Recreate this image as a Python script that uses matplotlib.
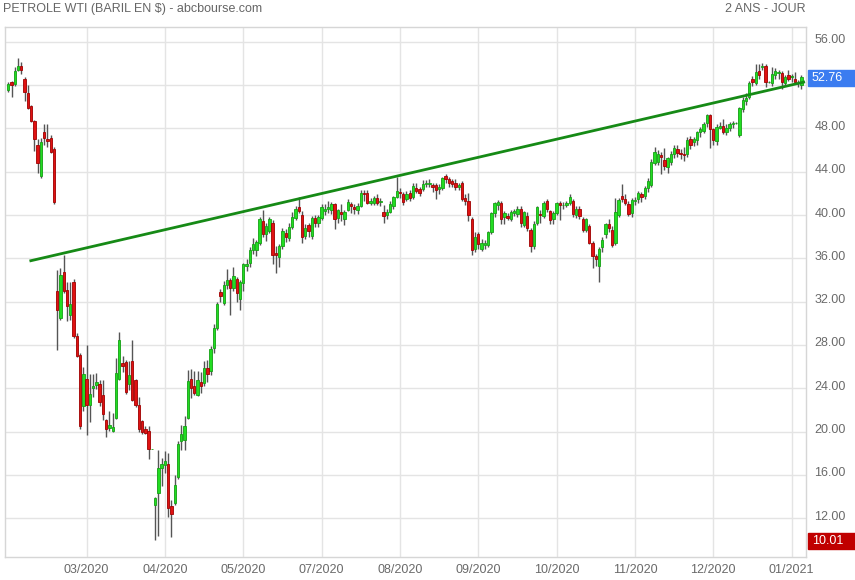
import numpy as np
import matplotlib as mpl
mpl.use("Agg")
import matplotlib.pyplot as plt
import matplotlib.transforms as mtransforms
from matplotlib.patches import Rectangle

mpl.rcParams["font.family"] = ["Liberation Sans", "DejaVu Sans"]

# daily candles, WTI (one entry per trading day)
opens = [
    51.5, 52.3, 52.1, 53.4, 53.8, 52.6, 51.3, 50.1, 48.7, 46.5,  # 0
    43.6, 47.7, 47.0, 47.1, 46.1, 33.0, 30.5, 34.7, 33.1, 30.8,  # 10
    33.8, 28.8, 27.1, 22.4, 24.9, 22.5, 24.0, 24.3, 24.4, 23.4,  # 20
    21.1, 20.3, 20.1, 21.3, 24.9, 26.3, 26.4, 24.4, 26.5, 24.8,  # 30
    22.5, 21.0, 20.2, 20.1, 18.4, 13.2, 14.3, 16.6, 16.9, 17.0,  # 40
    13.1, 13.4, 15.8, 19.1, 19.2, 21.3, 24.9, 24.2, 23.4, 24.6,  # 50
    24.5, 25.9, 25.6, 27.7, 29.6, 32.9, 31.9, 33.5, 34.0, 33.3,  # 60
    34.1, 32.2, 33.7, 35.3, 35.6, 36.8, 36.8, 37.4, 39.4, 38.2,  # 70
    38.5, 39.3, 36.5, 36.1, 37.1, 38.3, 37.9, 38.9, 39.7, 40.7,  # 80
    40.0, 38.1, 39.1, 38.1, 39.7, 39.3, 39.7, 40.4, 40.6, 40.5,  # 90
    41.0, 39.7, 40.3, 39.6, 40.5, 41.0, 40.7, 40.5, 40.8, 42.0,  # 100
    42.0, 41.1, 41.1, 41.6, 41.2, 40.3, 40.0, 40.3, 40.8, 41.7,  # 110
    42.1, 41.9, 41.5, 42.0, 41.7, 42.5, 42.4, 42.4, 42.9, 42.9,  # 120
    42.8, 42.8, 42.4, 42.5, 43.6, 43.3, 43.1, 43.0, 42.6, 43.0,  # 130
    41.6, 41.3, 39.6, 36.9, 38.2, 36.9, 37.2, 37.2, 38.4, 40.2,  # 140
    40.9, 41.1, 39.8, 39.9, 39.6, 40.2, 40.1, 40.6, 39.1, 39.9,  # 150
    38.6, 37.1, 39.3, 40.1, 39.9, 41.3, 40.4, 39.6, 40.2, 41.1,  # 160
    40.9, 40.9, 41.1, 41.3, 40.0, 40.6, 39.6, 38.6, 39.0, 37.4,  # 170
    36.2, 35.3, 37.0, 38.2, 39.2, 38.6, 37.4, 40.0, 41.8, 41.5,  # 180
    41.0, 40.2, 41.3, 41.5, 41.9, 41.8, 42.5, 42.8, 44.8, 44.9,  # 190
    45.5, 45.1, 44.4, 44.9, 45.6, 46.1, 45.7, 45.6, 45.6, 47.0,  # 200
    46.7, 46.9, 47.7, 47.8, 48.5, 49.2, 47.9, 46.8, 48.0, 48.2,  # 210
    47.7, 48.0, 48.4, 48.5, 47.4, 49.8, 50.5, 50.9, 52.6, 52.2,  # 220
    53.3, 53.7, 53.8, 52.3, 52.2, 52.9, 53.1, 53.1, 52.2, 52.9,  # 230
    52.7, 52.6, 52.2, 52.0,                                      # 240
]
highs = [
    52.3, 52.4, 53.7, 54.5, 54.1, 52.7, 52.0, 50.2, 48.8, 47.0,
    47.1, 48.4, 48.4, 47.4, 46.3, 34.9, 35.1, 36.3, 33.8, 33.8,
    34.1, 29.1, 27.3, 26.0, 28.0, 25.3, 25.3, 25.4, 24.8, 24.8,
    21.2, 21.9, 21.7, 26.8, 29.2, 27.0, 26.6, 26.5, 28.5, 24.9,
    23.2, 21.1, 20.5, 20.5, 18.4, 14.0, 18.3, 17.6, 18.2, 18.0,
    13.7, 16.0, 19.1, 20.6, 21.4, 25.7, 25.8, 25.6, 25.6, 25.5,
    26.5, 26.6, 27.9, 29.9, 32.0, 33.2, 33.9, 35.0, 34.2, 35.2,
    34.3, 34.0, 35.6, 35.9, 37.0, 37.9, 37.7, 39.8, 40.5, 39.3,
    39.8, 39.5, 37.1, 37.3, 38.8, 38.7, 39.3, 40.3, 40.8, 41.7,
    40.4, 39.2, 39.3, 39.9, 40.0, 40.0, 41.0, 41.0, 41.3, 41.2,
    41.1, 40.6, 41.0, 40.5, 41.5, 41.2, 41.0, 41.1, 42.3, 42.3,
    42.3, 41.6, 41.8, 41.9, 41.6, 40.9, 40.6, 41.3, 41.8, 43.5,
    42.5, 42.1, 42.2, 42.3, 43.0, 43.0, 42.6, 43.2, 43.2, 43.3,
    43.0, 43.0, 42.9, 43.5, 43.8, 43.5, 43.3, 43.3, 43.0, 43.1,
    41.9, 42.0, 39.8, 38.4, 38.4, 37.8, 37.7, 38.5, 40.3, 41.2,
    41.4, 41.3, 40.4, 40.2, 40.5, 40.6, 40.8, 40.8, 40.4, 40.3,
    38.8, 39.4, 40.8, 40.5, 41.3, 41.5, 40.5, 40.4, 41.2, 41.3,
    41.2, 41.3, 41.9, 41.5, 40.8, 40.8, 39.8, 39.7, 39.2, 37.6,
    36.4, 37.0, 38.0, 39.3, 39.6, 39.0, 41.6, 41.6, 42.9, 41.9,
    41.3, 41.6, 41.7, 42.2, 42.1, 42.7, 43.4, 45.2, 46.3, 46.0,
    45.8, 46.2, 45.4, 45.9, 46.5, 46.5, 46.1, 46.3, 47.2, 47.3,
    47.2, 47.8, 48.1, 48.6, 49.3, 49.3, 48.0, 48.4, 48.6, 48.9,
    48.4, 48.6, 48.7, 48.6, 50.0, 50.9, 51.3, 52.4, 52.8, 53.9,
    53.9, 54.0, 53.9, 52.4, 53.7, 53.6, 53.4, 53.3, 52.9, 53.4,
    53.0, 53.2, 52.5, 52.9,
]
lows = [
    51.4, 50.9, 51.9, 53.3, 53.0, 50.5, 49.8, 48.6, 45.9, 43.9,
    43.4, 46.5, 46.3, 45.7, 41.0, 27.5, 30.3, 32.8, 30.2, 30.3,
    28.6, 26.9, 20.2, 21.9, 19.7, 20.9, 23.2, 23.9, 22.4, 21.1,
    19.5, 20.1, 20.0, 21.2, 24.8, 25.5, 23.5, 23.8, 22.8, 22.3,
    20.0, 19.8, 19.8, 17.5, 18.4, 10.01, 10.4, 15.0, 16.2, 12.1,
    10.3, 13.2, 15.6, 18.3, 18.3, 21.2, 23.1, 23.4, 23.3, 23.6,
    24.2, 24.6, 25.2, 27.3, 29.4, 32.0, 31.7, 33.2, 30.8, 33.0,
    32.0, 31.2, 33.0, 34.8, 35.2, 36.4, 36.2, 37.2, 38.0, 37.6,
    38.3, 35.5, 34.6, 35.2, 36.9, 37.5, 37.6, 38.7, 39.5, 40.2,
    37.4, 37.8, 38.0, 37.8, 38.9, 38.9, 39.5, 40.0, 40.2, 40.1,
    38.7, 39.3, 39.4, 39.1, 40.4, 40.2, 40.1, 40.1, 40.7, 41.3,
    41.0, 40.9, 40.9, 40.9, 40.8, 39.3, 39.6, 40.2, 40.6, 41.6,
    41.6, 40.9, 41.3, 41.3, 41.5, 42.0, 41.8, 42.2, 42.6, 42.6,
    42.1, 41.5, 41.9, 42.3, 43.0, 42.6, 42.6, 42.3, 42.3, 41.3,
    40.9, 39.4, 36.3, 36.6, 36.9, 36.7, 36.9, 37.0, 38.2, 39.8,
    40.5, 39.2, 39.2, 39.5, 39.4, 39.9, 39.8, 38.9, 38.9, 38.5,
    36.6, 36.9, 39.1, 39.3, 39.7, 40.3, 39.2, 39.2, 40.0, 39.5,
    40.6, 40.7, 40.9, 39.8, 39.7, 39.6, 38.4, 38.4, 37.3, 35.1,
    35.3, 33.8, 36.6, 37.9, 38.4, 37.0, 37.2, 39.8, 41.2, 40.9,
    39.9, 39.8, 40.9, 41.1, 41.2, 41.5, 42.1, 42.6, 44.6, 44.6,
    43.8, 44.2, 43.9, 44.6, 45.3, 45.4, 45.2, 45.0, 45.4, 46.1,
    46.4, 46.5, 47.2, 47.6, 48.1, 46.2, 46.5, 46.5, 47.9, 47.5,
    47.4, 47.8, 48.0, 48.4, 47.2, 49.5, 50.2, 50.7, 51.9, 52.0,
    52.6, 53.4, 51.8, 52.2, 51.9, 52.6, 52.6, 51.6, 52.0, 52.4,
    52.3, 52.1, 51.8, 51.6,
]
closes = [
    52.1, 52.0, 53.3, 53.8, 53.4, 51.4, 49.9, 48.7, 47.0, 44.8,
    46.7, 47.1, 46.8, 45.8, 41.2, 31.2, 34.5, 33.0, 31.6, 31.8,
    28.8, 27.0, 20.5, 25.3, 22.5, 23.5, 24.2, 24.6, 22.7, 21.6,
    20.2, 20.6, 20.4, 25.4, 28.5, 26.1, 23.7, 25.2, 22.9, 22.5,
    20.2, 20.0, 19.9, 18.4, 18.4, 13.9, 16.6, 17.0, 17.3, 12.9,
    12.4, 15.1, 18.9, 19.8, 20.5, 24.7, 24.0, 23.6, 24.8, 24.2,
    25.9, 25.3, 27.6, 29.6, 31.8, 32.5, 33.5, 34.0, 33.3, 34.4,
    32.8, 33.8, 35.5, 35.5, 36.8, 37.3, 37.5, 39.6, 38.2, 39.0,
    39.6, 36.3, 36.3, 37.1, 38.5, 38.0, 38.9, 39.8, 40.6, 40.4,
    38.0, 38.8, 38.5, 39.7, 39.3, 39.8, 40.7, 40.6, 40.7, 41.0,
    39.6, 40.5, 40.1, 40.3, 41.2, 40.8, 40.6, 40.8, 42.0, 41.9,
    41.1, 41.3, 41.6, 41.1, 41.3, 39.9, 40.3, 41.0, 41.7, 42.2,
    42.0, 41.2, 41.9, 41.6, 42.7, 42.2, 42.0, 42.9, 43.0, 43.0,
    42.6, 42.3, 42.6, 43.4, 43.3, 43.0, 42.9, 42.6, 42.8, 41.5,
    41.3, 40.0, 36.8, 38.0, 37.3, 37.4, 37.4, 38.4, 40.2, 41.1,
    41.2, 39.6, 40.2, 39.7, 40.3, 40.4, 40.6, 39.3, 40.3, 38.8,
    37.1, 39.2, 40.7, 40.0, 41.1, 40.6, 39.5, 40.2, 41.1, 40.9,
    40.9, 41.1, 41.7, 40.1, 40.6, 39.9, 38.6, 39.6, 37.4, 36.2,
    35.9, 36.9, 37.7, 39.2, 38.8, 37.2, 40.3, 41.4, 41.5, 41.1,
    40.1, 41.4, 41.4, 42.0, 41.7, 42.5, 43.1, 44.9, 45.8, 45.6,
    45.4, 44.5, 45.3, 45.6, 46.2, 45.7, 45.6, 45.5, 46.9, 46.5,
    47.0, 47.7, 47.9, 48.4, 49.2, 47.9, 46.9, 48.1, 48.2, 47.7,
    48.0, 48.4, 48.5, 48.5, 49.9, 50.6, 50.8, 52.2, 52.3, 53.2,
    52.9, 53.8, 52.3, 52.3, 53.0, 53.3, 53.2, 52.3, 52.7, 52.6,
    52.8, 52.3, 52.2, 52.76,
]

# gridline positions (every 24 sessions) and their month labels
month_pos = [24, 48, 72, 96, 120, 144, 168, 192, 216, 240]
month_labels = ["03/2020", "04/2020", "05/2020", "07/2020", "08/2020",
                "09/2020", "10/2020", "11/2020", "12/2020", "01/2021"]
price_ticks = [12, 16, 20, 24, 28, 32, 36, 40, 44, 48, 52, 56]

# support line drawn on the chart
trend_x = [6.5, 244.1]
trend_y = [35.75, 52.3]

o = np.array(opens)
h = np.array(highs)
l = np.array(lows)
c = np.array(closes)
x = np.arange(len(c))
up = c >= o

W, H = 855, 580
fig = plt.figure(figsize=(W / 100, H / 100), dpi=100)
ax = fig.add_axes([5 / W, 23 / H, 801 / W, 530 / H])
ax.set_xlim(-1.0, 244.4)
ax.set_ylim(8.42, 57.36)

ax.set_xticks(month_pos)
ax.set_xticklabels(month_labels)
ax.set_yticks(price_ticks)
# the value tags on the right hide the price labels they sit on
tag_vals = [closes[-1], min(lows)]
ax.set_yticklabels(["" if min(abs(v - t) for t in tag_vals) < 1.2
                    else "{:.2f}".format(v) for v in price_ticks])
ax.yaxis.tick_right()
ax.grid(True, color="#e4e4e4", lw=1, zorder=0)
ax.tick_params(axis="both", length=0, labelsize=9, labelcolor="#6a6a6a")
ax.tick_params(axis="y", pad=6)
ax.tick_params(axis="x", pad=5)
lift = mtransforms.ScaledTranslation(0, 3 / 100, fig.dpi_scale_trans)
for lab in ax.get_yticklabels():
    lab.set_transform(lab.get_transform() + lift)
for sp in ax.spines.values():
    sp.set_color("#d6d6d6")
    sp.set_linewidth(1)

# candles
lo = np.minimum(l, np.minimum(o, c))
hi = np.maximum(h, np.maximum(o, c))
ax.vlines(x, lo, hi, color="#555555", lw=1, zorder=2)
ax.bar(x[up], (c - o)[up], bottom=o[up], width=0.72, color="#22dd22",
       edgecolor="#15a015", lw=0.6, zorder=3)
ax.bar(x[~up], (c - o)[~up], bottom=o[~up], width=0.72, color="#e01212",
       edgecolor="#a00000", lw=0.6, zorder=3)

ax.plot(trend_x, trend_y, color="#168a16", lw=2, zorder=4, solid_capstyle="butt")

# header texts
fig.text(3 / W, 1 - 9 / H, "PETROLE WTI (BARIL EN $) - abcbourse.com",
         ha="left", va="center", fontsize=9, color="#666666")
fig.text(806 / W, 1 - 9 / H, "2 ANS - JOUR", ha="right", va="center",
         fontsize=9, color="#666666")

# last / lowest value tags on the right
tr = mtransforms.blended_transform_factory(fig.transFigure, ax.transData)
box_h = 16 / 10.83
for val, col in [(closes[-1], "#3b7cf0"), (min(lows), "#c00000")]:
    fig.add_artist(Rectangle((808 / W, val - box_h * 0.6), 47 / W, box_h,
                             transform=tr, color=col, clip_on=False))
    fig.text(812 / W, val - box_h * 0.1, "{:.2f}".format(val), transform=tr,
             ha="left", va="center", fontsize=9, color="white")

fig.savefig("out.png", dpi=100)
